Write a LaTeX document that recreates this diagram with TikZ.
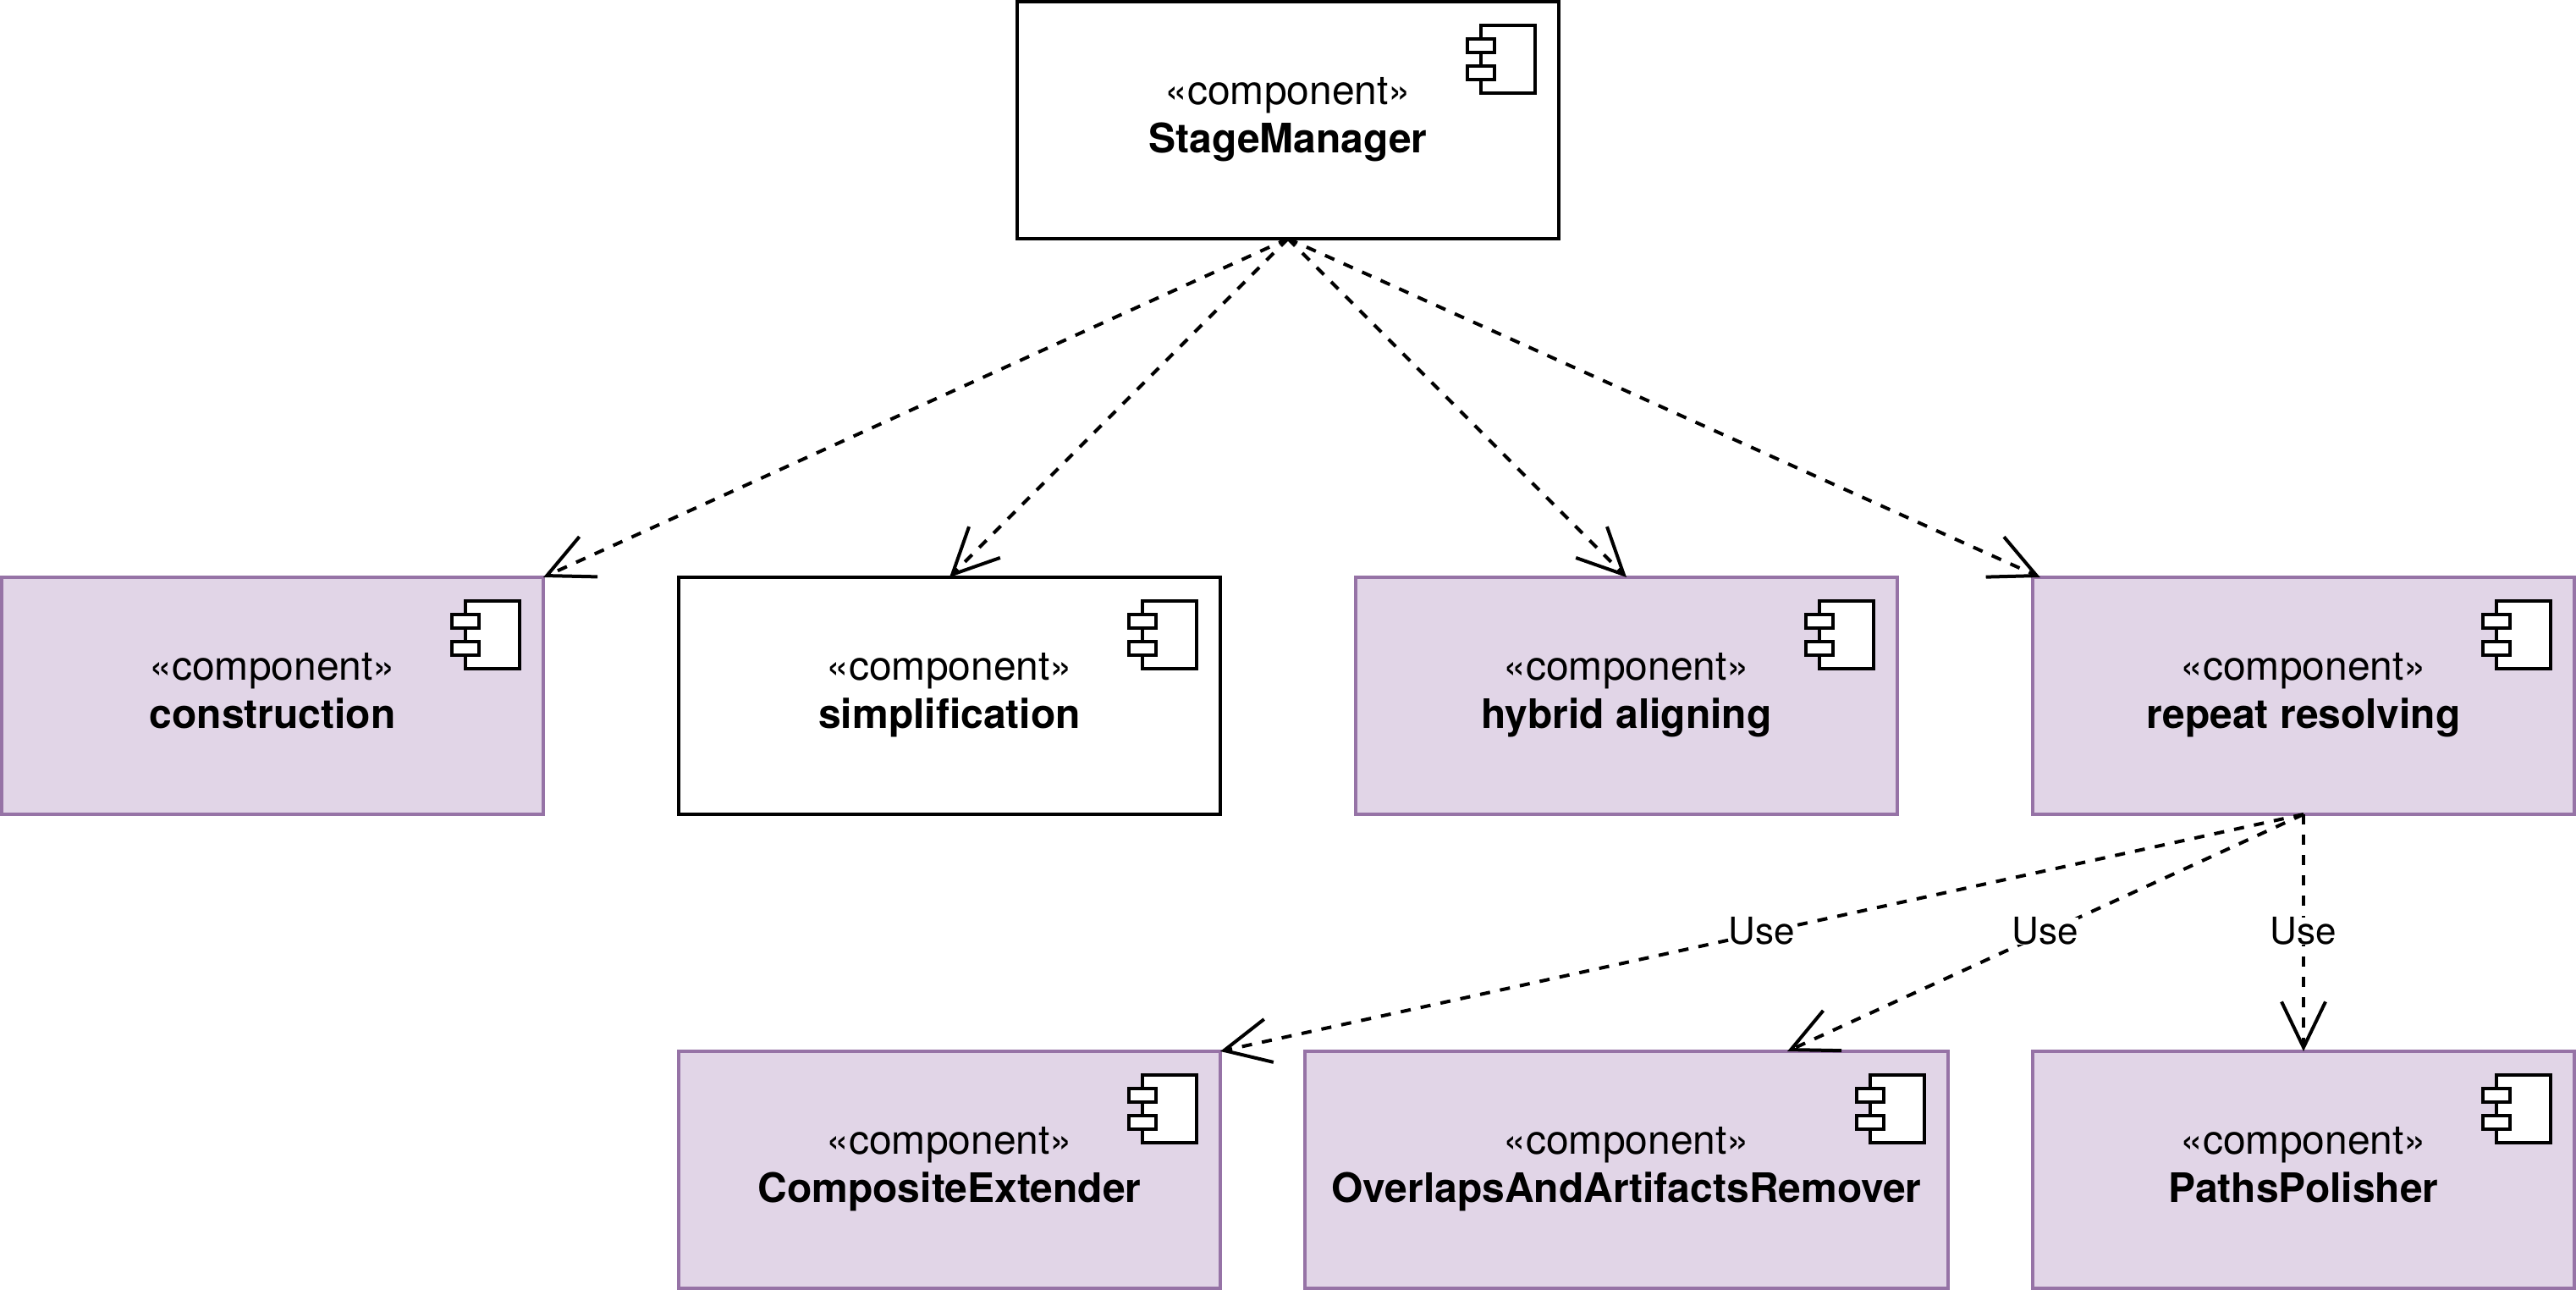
\documentclass[tikz,border=0pt]{standalone}
\usepackage{fontspec}
\setmainfont{TeX Gyre Heros}
\usetikzlibrary{arrows.meta,calc}
\definecolor{umlfill}{HTML}{E1D5E7}
\definecolor{umlline}{HTML}{9673A6}
\tikzset{
  x=2pt,y=-2pt,
  compbox/.style={rectangle,draw=black,fill=white,line width=2pt,inner sep=0pt,outer sep=0pt,minimum height=140pt,align=center,
    font=\fontsize{24}{28.8}\selectfont,text=black},
  purplebox/.style={compbox,draw=umlline,fill=umlfill},
  boxw/.style={minimum width=#1*2pt},
  iconline/.style={draw=black,fill=white,line width=1.8pt},
  dep/.style={draw=black,line width=2pt,dash pattern=on 6pt off 6pt,-{Straight Barb[length=27pt,width=26pt,line width=2pt]}},
  uselabel/.style={fill=white,inner sep=0pt,yshift=1pt,font=\fontsize{22}{26.4}\selectfont,text=black}
}
\newcommand{\comptext}[1]{\rule{0pt}{20pt}«component»\\\textbf{#1}\rule[-10pt]{0pt}{10pt}}
\newcommand{\compicon}[1]{%
  \draw[iconline] ([shift={(-23,7)}]#1.north east) rectangle ([shift={(-7,27)}]#1.north east);
  \draw[iconline] ([shift={(-27,11)}]#1.north east) rectangle ([shift={(-19,15)}]#1.north east);
  \draw[iconline] ([shift={(-27,19)}]#1.north east) rectangle ([shift={(-19,23)}]#1.north east);
}
\begin{document}
\begin{tikzpicture}
\useasboundingbox (-0.5,-0.5) rectangle (760.5,380.5);
\node[compbox,boxw=160] (sm) at (380,35) {\comptext{StageManager}};
\node[purplebox,boxw=160] (con) at (80,205) {\comptext{construction}};
\node[compbox,boxw=160] (sim) at (280,205) {\comptext{simplification}};
\node[purplebox,boxw=160] (hyb) at (480,205) {\comptext{hybrid aligning}};
\node[purplebox,boxw=160] (rep) at (680,205) {\comptext{repeat resolving}};
\node[purplebox,boxw=160] (ext) at (280,345) {\comptext{CompositeExtender}};
\node[purplebox,boxw=190] (rem) at (480,345) {\comptext{OverlapsAndArtifactsRemover}};
\node[purplebox,boxw=160] (pol) at (680,345) {\comptext{PathsPolisher}};
\compicon{sm}\compicon{con}\compicon{sim}\compicon{hyb}\compicon{rep}\compicon{ext}\compicon{rem}\compicon{pol}
\coordinate (remtop) at ($(rem.north west)!0.75!(rem.north east)$);
\coordinate (reptop) at ($(rep.north west)+(2.2,0)$);
\draw[dep] (sm.south) -- (con.north east);
\draw[dep] (sm.south) -- (sim.north);
\draw[dep] (sm.south) -- (hyb.north);
\draw[dep] (sm.south) -- (reptop);
\draw[dep] (rep.south) -- node[uselabel] (u1) {Use} (ext.north east);
\draw[dep] (rep.south) -- node[uselabel] (u2) {Use} (remtop);
\draw[dep] (rep.south) -- node[uselabel] (u3) {Use} (pol.north);
\end{tikzpicture}
\end{document}
